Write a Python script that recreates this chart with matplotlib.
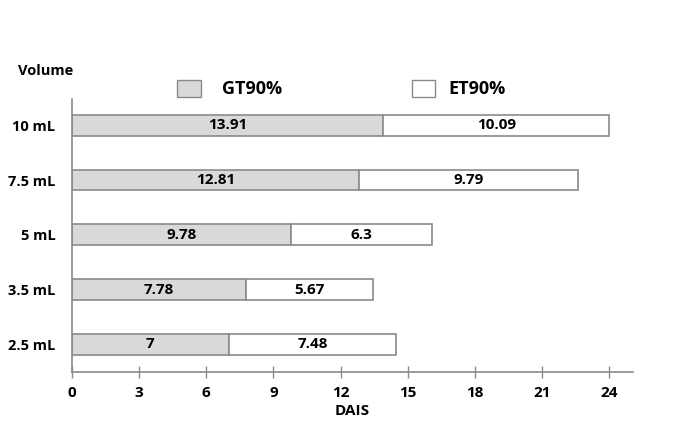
import matplotlib.pyplot as plt
from matplotlib.patches import Rectangle

volumes = ['2.5 mL', '3.5 mL', '5 mL', '7.5 mL', '10 mL']
gt90 = [7, 7.78, 9.78, 12.81, 13.91]
et90 = [7.48, 5.67, 6.3, 9.79, 10.09]
xticks = [0, 3, 6, 9, 12, 15, 18, 21, 24]

plt.rcParams['font.family'] = ['Open Sans', 'DejaVu Sans']
plt.rcParams['font.weight'] = 'bold'

fig = plt.figure(figsize=(6.86, 4.38), dpi=100)
ax = fig.add_axes([0.105, 0.151, 0.818, 0.623])

edge = '#8a8a8a'
y = range(len(volumes))
ax.barh(y, gt90, height=0.38, color='#d9d9d9', edgecolor=edge, linewidth=1.2)
ax.barh(y, et90, left=gt90, height=0.38, color='white', edgecolor=edge, linewidth=1.2)

for i in y:
    ax.text(gt90[i] / 2, i, f'{gt90[i]:g}', ha='center', va='center', fontsize=11, fontweight='bold')
    ax.text(gt90[i] + et90[i] / 2, i, f'{et90[i]:g}', ha='center', va='center', fontsize=11, fontweight='bold')

ax.set_xlim(0, 25.07)
ax.set_ylim(-0.5, 4.48)
ax.set_xticks(xticks)
ax.set_yticks(list(y))
ax.set_yticklabels(volumes)
ax.tick_params(axis='x', direction='inout', length=8, color=edge, width=1, labelsize=11, pad=6)
ax.tick_params(axis='y', length=0, labelsize=10.5, pad=12)
for s in ['top', 'right']:
    ax.spines[s].set_visible(False)
for s in ['left', 'bottom']:
    ax.spines[s].set_color(edge)
    ax.spines[s].set_linewidth(1.2)
ax.set_xlabel('DAIS', fontsize=11, fontweight='bold', labelpad=3)

fig.text(0.026, 0.838, 'Volume', fontsize=10.5, fontweight='bold', va='center')

# legend drawn by hand to match the layout
fig.patches.append(Rectangle((177 / 686, 1 - 97 / 438), 24 / 686, 17 / 438, transform=fig.transFigure,
                             facecolor='#d9d9d9', edgecolor=edge, linewidth=1))
fig.text(222 / 686, 1 - 89 / 438, 'GT90%', fontsize=13, fontweight='bold', va='center')
fig.patches.append(Rectangle((412 / 686, 1 - 97 / 438), 23 / 686, 17 / 438, transform=fig.transFigure,
                             facecolor='white', edgecolor=edge, linewidth=1))
fig.text(448 / 686, 1 - 89 / 438, 'ET90%', fontsize=13, fontweight='bold', va='center')

fig.savefig('out.png', dpi=100)
